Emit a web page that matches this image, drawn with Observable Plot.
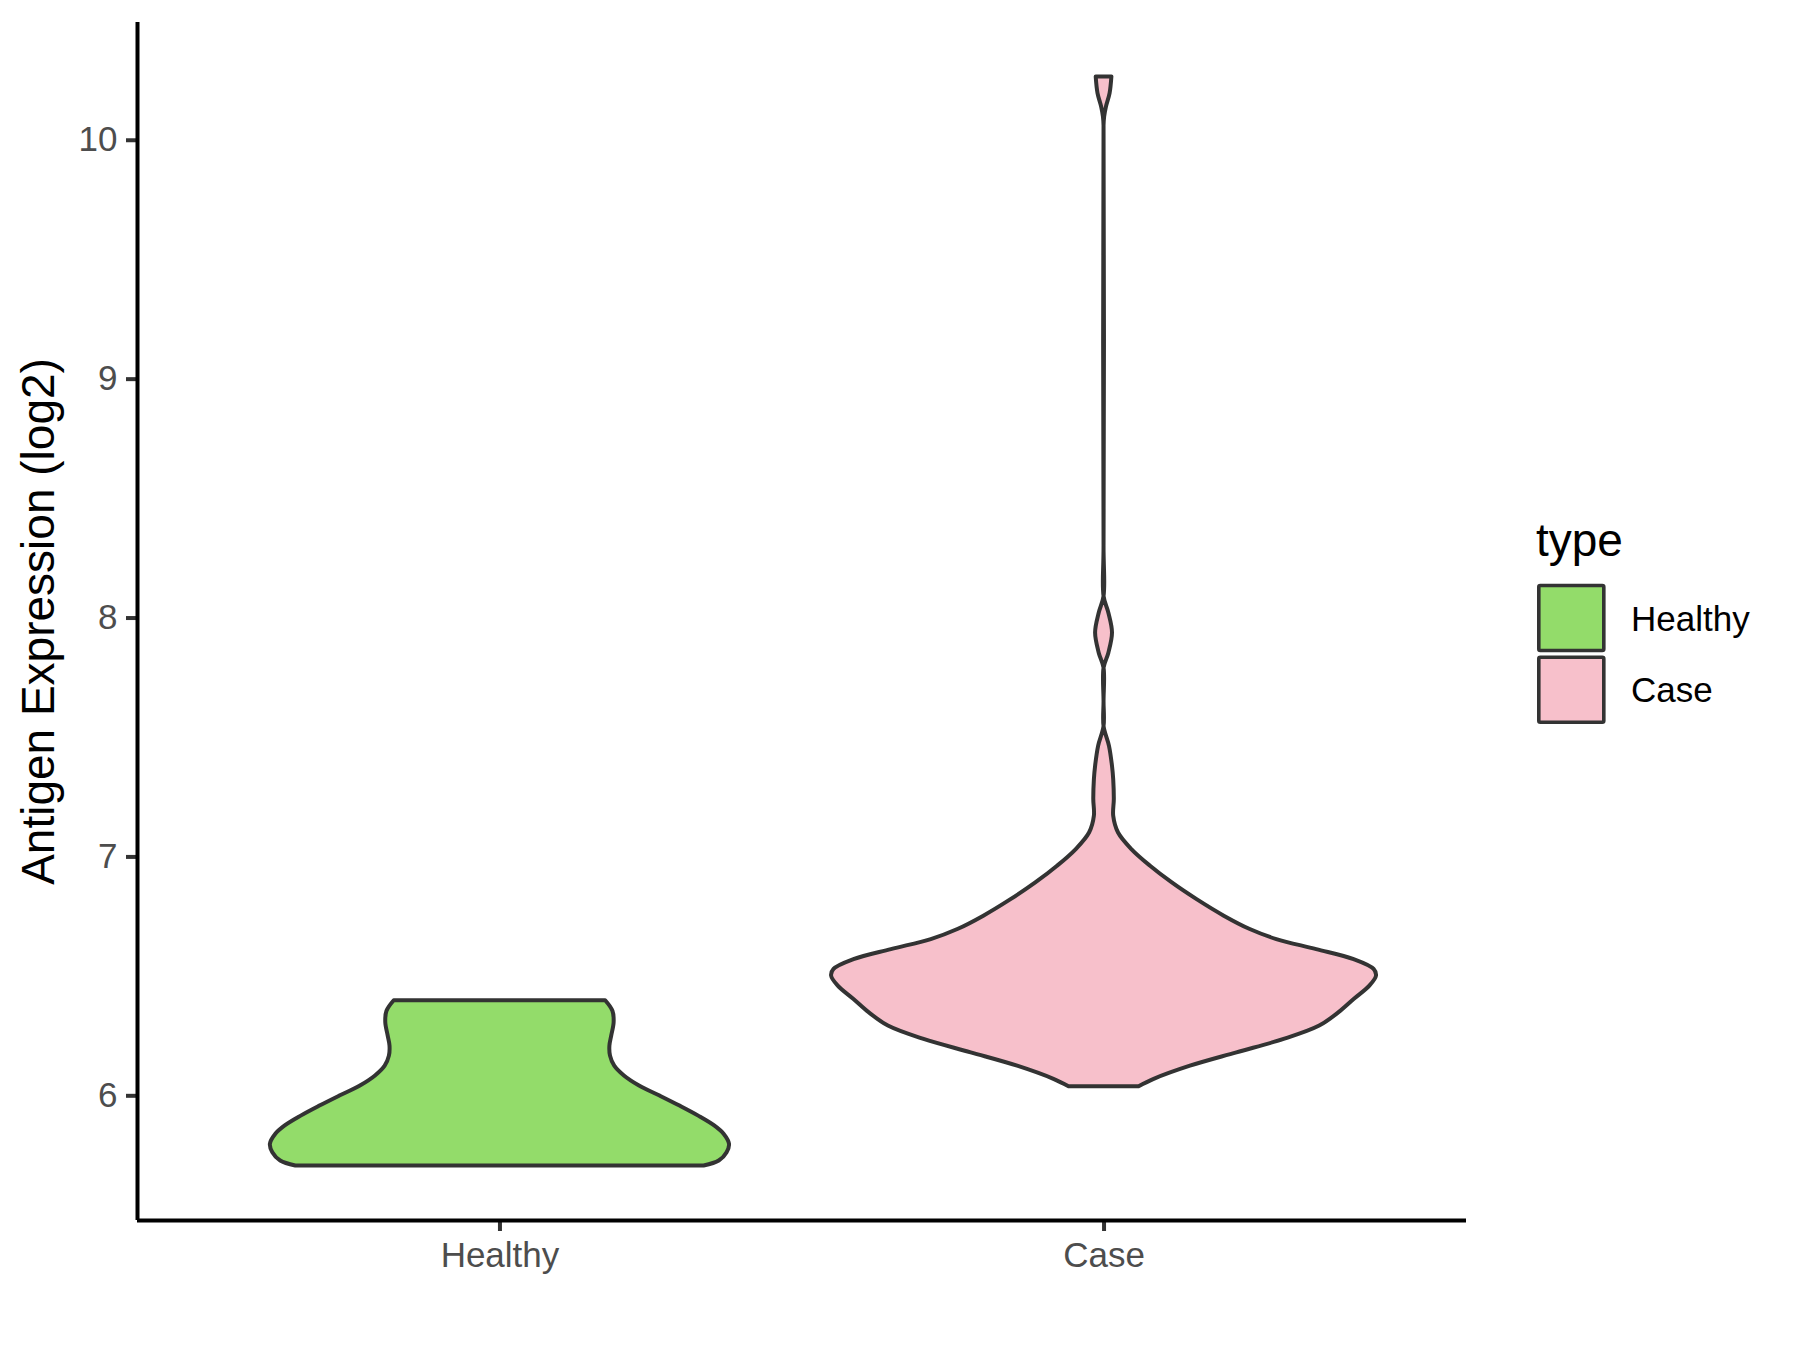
<!DOCTYPE html>
<html>
<head>
<meta charset="utf-8">
<script src="https://cdn.jsdelivr.net/npm/d3@7"></script>
<script src="https://cdn.jsdelivr.net/npm/@observablehq/plot@0.6"></script>
<style>
  body { margin: 0; background: #ffffff; }
  #wrap { position: relative; width: 1800px; height: 1350px; font-family: "Liberation Sans", Arial, sans-serif; }
  #legend { position: absolute; left: 0; top: 0; }
</style>
</head>
<body>
<div id="wrap"></div>
<script>
// ---- data ----
const categories = ["Healthy", "Case"];
const fills = ["#93DC6A", "#F7C0CB"];
const yTicks = [6, 7, 8, 9, 10];
const yTitle = "Antigen Expression (log2)";
const legendTitle = "type";

// violin outline: expression level and half-width (in category units)
const healthyY = [5.706, 5.727, 5.762, 5.797, 5.839, 5.873, 5.915, 5.957, 5.999, 6.041, 6.083, 6.124, 6.166, 6.208, 6.250, 6.306, 6.354, 6.398];
const healthyW = [0.338, 0.363, 0.376, 0.380, 0.371, 0.356, 0.329, 0.298, 0.265, 0.231, 0.206, 0.190, 0.183, 0.182, 0.185, 0.189, 0.187, 0.175];

const caseY = [6.038, 6.069, 6.124, 6.180, 6.236, 6.292, 6.348, 6.403, 6.459, 6.501, 6.529, 6.570, 6.612, 6.654, 6.696, 6.752, 6.821, 6.891, 6.961, 7.031, 7.100, 7.170, 7.240, 7.323, 7.379, 7.463, 7.546, 7.650, 7.790, 7.853, 7.937, 8.020, 8.090, 8.300, 10.060, 10.097, 10.139, 10.195, 10.265];
const caseW = [0.058, 0.083, 0.143, 0.220, 0.298, 0.357, 0.389, 0.414, 0.440, 0.451, 0.447, 0.414, 0.352, 0.286, 0.242, 0.199, 0.154, 0.113, 0.077, 0.046, 0.024, 0.016, 0.017, 0.016, 0.014, 0.009, 0.000, 0.000, 0.000, 0.008, 0.014, 0.008, 0.000, 0.000, 0.000, 0.001, 0.004, 0.010, 0.013];

// ---- build table ----
const profiles = [[healthyY, healthyW], [caseY, caseW]];
const rows = [];
categories.forEach((c, i) => {
  const [ys, ws] = profiles[i];
  ys.forEach((y, j) => rows.push({type: c, y, x1: i + 1 - ws[j], x2: i + 1 + ws[j]}));
});
const allY = rows.map(d => d.y);
const yMin = d3.min(allY), yMax = d3.max(allY), r = yMax - yMin;
const yDomain = [yMin - 0.05 * r, yMax + 0.05 * r];
const xDomain = [0.4, categories.length + 0.6];
const xTicks = categories.map((c, i) => i + 1);

const chart = Plot.plot({
  width: 1800,
  height: 1350,
  marginLeft: 137,
  marginRight: 334,
  marginTop: 22,
  marginBottom: 130,
  style: {fontFamily: "'Liberation Sans', Arial, sans-serif", background: "white", overflow: "visible"},
  x: {domain: xDomain},
  y: {domain: yDomain},
  color: {domain: categories, range: fills},
  marks: [
    Plot.areaX(rows, {y: "y", x1: "x1", x2: "x2", z: "type", fill: "type", stroke: "#333333", strokeWidth: 4, strokeLinejoin: "round", curve: "catmull-rom"}),
    Plot.axisY(yTicks, {tickSize: 11, tickPadding: 9, fontSize: 35, fill: "#4D4D4D", stroke: "#333333", strokeWidth: 4, tickFormat: d => String(d), label: null}),
    Plot.axisY(yTicks, {tickSize: 0, tickFormat: () => "", fontSize: 46, fill: "black", label: yTitle, labelAnchor: "center", labelArrow: "none", labelOffset: 116}),
    Plot.axisX(xTicks, {tickSize: 11, tickPadding: 11, fontSize: 35, fill: "#4D4D4D", stroke: "#333333", strokeWidth: 4, tickFormat: v => categories[v - 1], label: null}),
    Plot.ruleX([xDomain[0]], {stroke: "black", strokeWidth: 4}),
    Plot.ruleY([yDomain[0]], {stroke: "black", strokeWidth: 4})
  ]
});
document.getElementById("wrap").appendChild(chart);

// ---- legend (to the right of the panel) ----
const lg = d3.select("#wrap").append("svg")
  .attr("id", "legend")
  .attr("width", 1800).attr("height", 1350)
  .style("pointer-events", "none");
lg.append("text")
  .attr("x", 1536).attr("y", 556)
  .attr("font-size", 46).attr("fill", "black")
  .attr("font-family", "'Liberation Sans', Arial, sans-serif")
  .text(legendTitle);
categories.forEach((c, i) => {
  const top = 585.5 + i * 71.7;
  lg.append("rect")
    .attr("x", 1538.8).attr("y", top)
    .attr("width", 65).attr("height", 65)
    .attr("rx", 1.5)
    .attr("fill", fills[i]).attr("stroke", "#333333").attr("stroke-width", 3.6);
  lg.append("text")
    .attr("x", 1631).attr("y", top + 45)
    .attr("font-size", 35).attr("fill", "black")
    .attr("font-family", "'Liberation Sans', Arial, sans-serif")
    .text(c);
});
</script>
</body>
</html>
